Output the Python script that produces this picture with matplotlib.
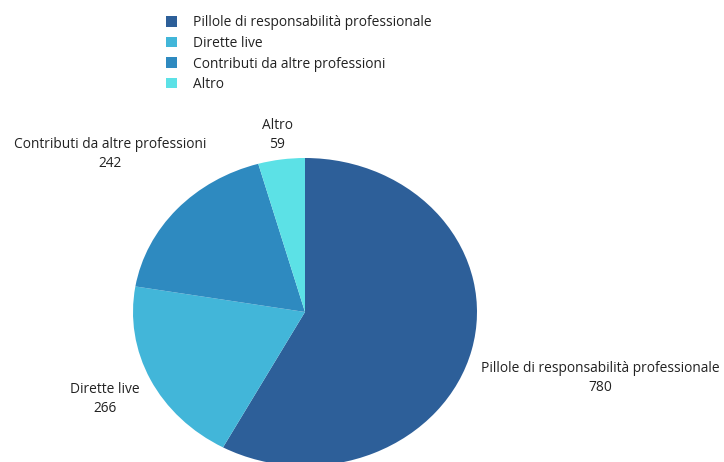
import matplotlib
matplotlib.use("Agg")
import matplotlib.pyplot as plt

categories = ["Pillole di responsabilità professionale", "Dirette live",
              "Contributi da altre professioni", "Altro"]
values = [780, 266, 242, 59]
colors = ["#2D5F99", "#42B6D9", "#2E8AC0", "#5CE1E6"]

plt.rcParams['font.family'] = ['Open Sans', 'DejaVu Sans']

W, H = 724, 462
fig = plt.figure(figsize=(W / 100, H / 100), dpi=100)
cx, cy, rx, ry = 305, 312, 172, 154
ax = fig.add_axes([(cx - rx) / W, (H - cy - ry) / H, 2 * rx / W, 2 * ry / H])
wedges, _ = ax.pie(values, colors=colors, startangle=90, counterclock=False,
                   radius=1, wedgeprops=dict(linewidth=0))
ax.set_aspect('auto')
ax.set_xlim(-1, 1)
ax.set_ylim(-1, 1)
ax.axis('off')

# label centres in pixel coordinates of the figure
label_pos = [(600, 378), (105, 399), (110, 154), (277, 135)]
for name, v, (px, py) in zip(categories, values, label_pos):
    fig.text(px / W, 1 - py / H, f"{name}\n{v}", ha='center', va='center',
             fontsize=9.9, color='#222222', linespacing=1.4)

leg = fig.legend(wedges, categories, loc='upper left',
                 bbox_to_anchor=(160.5 / W, 1 - 10 / H), frameon=False,
                 fontsize=9.9, handlelength=0.8, handleheight=0.8,
                 handletextpad=1.15, labelspacing=0.4, borderaxespad=0,
                 labelcolor='#222222')

fig.savefig("out.png", dpi=100)
